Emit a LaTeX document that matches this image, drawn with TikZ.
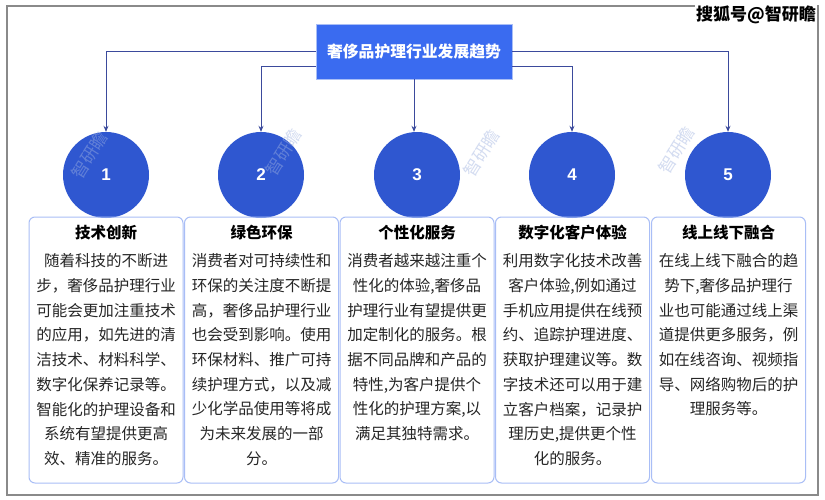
\documentclass[tikz,border=0pt]{standalone}
\usepackage{fontspec}
\newfontfamily\cjk{Noto Sans CJK SC}
\newfontfamily\numfont{Liberation Sans}
\usetikzlibrary{arrows.meta}
\definecolor{titleblue}{HTML}{3A6BF0}
\definecolor{circblue}{HTML}{2F57D0}
\definecolor{linkblue}{HTML}{3B4A9C}
\definecolor{boxedge}{HTML}{A9BEF6}
\definecolor{frame}{HTML}{8A8A8A}
\definecolor{wm}{HTML}{9FB2E0}
\tikzset{
  x=1pt,y=-1pt,
  titlebox/.style={draw=boxedge,line width=0.8pt,fill=titleblue,text=white,minimum width=196pt,minimum height=55pt,inner sep=0pt,font=\cjk\bfseries\fontsize{15.8}{18}\selectfont},
  numcirc/.style={circle,fill=circblue,minimum size=86pt,inner sep=0pt,text=white,font=\numfont\bfseries\fontsize{17}{20}\selectfont},
  card/.style={draw=boxedge,line width=1pt,rounded corners=6pt,minimum width=154pt,minimum height=266pt,inner sep=0pt},
  cardhead/.style={font=\cjk\bfseries\fontsize{15.5}{18}\selectfont,inner sep=0pt,anchor=base},
  cardbody/.style={font=\cjk\fontsize{15.5}{24.7}\selectfont,inner sep=0pt,align=center,anchor=north,text=black!85},
  link/.style={draw=linkblue,line width=0.8pt,-{Stealth[length=6pt,width=5pt]}},
  wmark/.style={text=wm,opacity=0.45,rotate=58,font=\cjk\fontsize{17}{20}\selectfont,inner sep=0pt},
}
\begin{document}
\begin{tikzpicture}
\useasboundingbox (0,0) rectangle (825,500);
\fill[white] (0,0) rectangle (825,500);
\draw[frame,line width=1.4pt] (7,6) rectangle (818,495);
\node[fill=white,inner sep=1pt,anchor=east,font=\cjk\bfseries\fontsize{17}{20}\selectfont] (logo) at (817,15) {搜狐号@智研瞻};

\node[titlebox] (title) at (414,51.5) {奢侈品护理行业发展趋势};

\foreach \i/\x in {1/106,2/261,3/417,4/572,5/728}{
  \node[numcirc] (c\i) at (\x,175) {\i};
}

\draw[link] (title.west) -| (c1.north);
\draw[link] ([yshift=-15pt]title.west) -| (c2.north);
\draw[link] (title.south) -- (title.south|-c3.north);
\draw[link] ([yshift=-15pt]title.east) -| (c4.north);
\draw[link] (title.east) -| (c5.north);

\node[card] (b1) at (106,350) {};
\node[card] (b2) at (261.5,350) {};
\node[card] (b3) at (417,350) {};
\node[card] (b4) at (572.5,350) {};
\node[card] (b5) at (728.5,350) {};

\node[cardhead] (h1) at (106,238.5) {技术创新};
\node[cardhead] (h2) at (261.5,238.5) {绿色环保};
\node[cardhead] (h3) at (417,238.5) {个性化服务};
\node[cardhead] (h4) at (572.5,238.5) {数字化客户体验};
\node[cardhead] (h5) at (728.5,238.5) {线上线下融合};

\node[cardbody] (t1) at (106,253.5) {随着科技的不断进\\步，奢侈品护理行业\\可能会更加注重技术\\的应用，如先进的清\\洁技术、材料科学、\\数字化保养记录等。\\智能化的护理设备和\\系统有望提供更高\\效、精准的服务。};
\node[cardbody] (t2) at (261.5,253.5) {消费者对可持续性和\\环保的关注度不断提\\高，奢侈品护理行业\\也会受到影响。使用\\环保材料、推广可持\\续护理方式，以及减\\少化学品使用等将成\\为未来发展的一部\\分。};
\node[cardbody] (t3) at (417,253.5) {消费者越来越注重个\\性化的体验,奢侈品\\护理行业有望提供更\\加定制化的服务。根\\据不同品牌和产品的\\特性,为客户提供个\\性化的护理方案,以\\满足其独特需求。};
\node[cardbody] (t4) at (572.5,253.5) {利用数字化技术改善\\客户体验,例如通过\\手机应用提供在线预\\约、追踪护理进度、\\获取护理建议等。数\\字技术还可以用于建\\立客户档案，记录护\\理历史,提供更个性\\化的服务。};
\node[cardbody] (t5) at (728.5,253.5) {在线上线下融合的趋\\势下,奢侈品护理行\\业也可能通过线上渠\\道提供更多服务，例\\如在线咨询、视频指\\导、网络购物后的护\\理服务等。};

\node[wmark] (w1) at (90,155) {智研瞻};
\node[wmark] (w2) at (284,152) {智研瞻};
\node[wmark] (w3) at (482,153) {智研瞻};
\node[wmark] (w4) at (677,150) {智研瞻};
\end{tikzpicture}
\end{document}
